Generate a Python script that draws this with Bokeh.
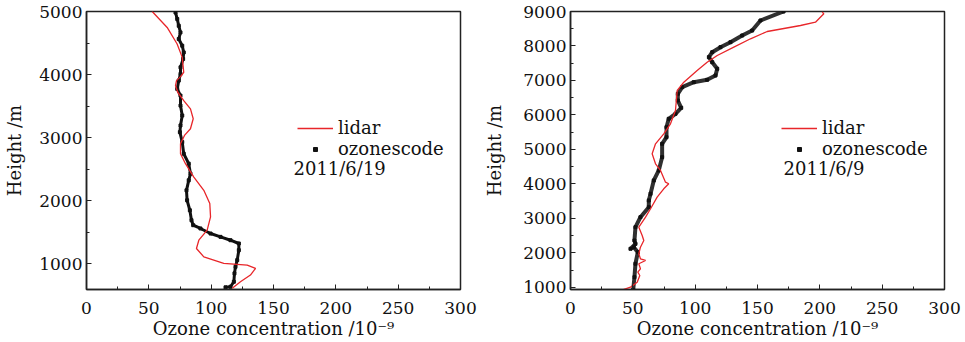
from bokeh.plotting import figure
from bokeh.layouts import row
from bokeh.models import SingleIntervalTicker, Legend, LegendItem, Label, Range1d
from bokeh.embed import file_html
from bokeh.resources import INLINE

# ---------------- data: 2011/6/19 ----------------
lidar1_x = [52.7, 64.7, 72.7, 76.8, 78.0, 75.4, 72.2, 71.4, 73.2, 78.0, 83.4, 85.6, 83.4, 78.6,
            75.4, 75.4, 79.4, 86.1, 94.1, 98.9, 99.5, 96.8, 90.1, 88.2, 94.1, 110.1, 128.9,
            135.6, 131.5, 123.5, 116.9]
lidar1_y = [5000, 4747, 4484, 4272, 4035, 3967, 3904, 3825, 3719, 3587, 3456, 3298, 3140, 3034,
            2902, 2744, 2586, 2374, 2163, 1953, 1741, 1531, 1372, 1241, 1108, 1004, 977,
            925, 819, 713, 608]
sonde1_x = [71.4, 72.8, 74.0, 75.4, 74.0, 76.8, 78.0, 77.5, 75.4, 75.4, 74.0, 72.8, 75.4, 75.4,
            76.8, 75.4, 74.9, 76.8, 78.0, 82.0, 83.4, 82.0, 80.2, 80.7, 82.9, 84.2, 85.6,
            91.4, 99.5, 107.5, 115.5, 122.2, 122.2, 120.9, 119.5, 118.7, 118.2, 115.5, 111.5]
sonde1_y = [4984, 4880, 4774, 4668, 4563, 4457, 4351, 4247, 4114, 4010, 3904, 3772, 3666, 3508,
            3350, 3192, 3086, 2928, 2744, 2586, 2428, 2322, 2163, 2005, 1847, 1689, 1610,
            1558, 1478, 1425, 1372, 1320, 1214, 1056, 950, 846, 713, 634, 624]

# ---------------- data: 2011/6/9 ----------------
lidar2_x = [201.9, 203.2, 196.5, 184.5, 157.8, 144.4, 131.0, 117.7, 109.6, 101.6, 90.9, 85.6,
            84.2, 80.2, 74.8, 68.2, 65.5, 68.2, 72.2, 76.2, 78.8, 74.8, 69.5, 64.2, 60.2,
            54.8, 57.5, 58.8, 56.1, 54.8, 56.1, 60.2, 54.8, 56.1, 54.0, 55.6, 53.5, 48.1, 40.1]
lidar2_y = [8990, 8933, 8690, 8594, 8420, 8209, 7965, 7724, 7530, 7290, 6950, 6710,
            6130, 5744, 5454, 5164, 4875, 4585, 4391, 4052, 4005, 3860, 3617, 3280, 3037,
            2747, 2506, 2361, 2167, 1976, 1831, 1782, 1686, 1541, 1442, 1346, 1152, 1007, 910]
sonde2_x = [170.9, 152.4, 145.7, 137.7, 128.3, 120.3, 113.7, 111.0, 113.7, 117.7, 116.3, 109.6,
            98.9, 89.6, 86.1, 86.1, 88.8, 84.2, 78.8, 77.0, 77.0, 73.5, 73.5, 70.8, 66.8,
            64.2, 62.8, 62.8, 56.1, 52.1, 51.3, 52.1, 48.1, 50.8, 54.0, 52.1, 51.3, 50.3]
sonde2_y = [9000, 8739, 8449, 8304, 8110, 7965, 7820, 7675, 7530, 7339, 7145, 7020,
            6950, 6806, 6614, 6420, 6208, 6034, 5889, 5646, 5356, 5164, 4776, 4391, 4101,
            3715, 3521, 3327, 3037, 2747, 2361, 2265, 2120, 2167, 2022, 1686, 1298, 930]

FONT = "DejaVu Serif"
RED = "#e8262a"
INK = "#111111"


def make_fig(width, border_left, border_right, y0, y1, lx, ly, sx, sy, date, date_x, thick,
             ylabel_standoff):
    p = figure(width=width, height=342, output_backend="svg", toolbar_location=None,
               x_range=Range1d(0, 300), y_range=Range1d(y0, y1),
               min_border_left=border_left, min_border_right=border_right,
               min_border_top=11, min_border_bottom=53)
    p.background_fill_color = "white"
    p.border_fill_color = "white"
    p.outline_line_color = "#222222"
    p.outline_line_width = 1.5
    p.xgrid.visible = False
    p.ygrid.visible = False
    p.xaxis.ticker = SingleIntervalTicker(interval=50, num_minor_ticks=2)
    p.yaxis.ticker = SingleIntervalTicker(interval=1000, num_minor_ticks=2)
    for ax in (p.xaxis[0], p.yaxis[0]):
        ax.axis_line_color = "#222222"
        ax.axis_line_width = 1.5
        ax.major_tick_in = 5
        ax.major_tick_out = 0
        ax.minor_tick_in = 3
        ax.minor_tick_out = 0
        ax.major_tick_line_color = "#222222"
        ax.minor_tick_line_color = "#222222"
        ax.major_label_text_font = FONT
        ax.major_label_text_font_size = "17px"
        ax.major_label_text_color = INK
        ax.axis_label_text_font = FONT
        ax.axis_label_text_font_size = "18px"
        ax.axis_label_text_font_style = "normal"
        ax.axis_label_text_color = INK
    p.xaxis.axis_label = "Ozone concentration /10\u207b\u2079"
    p.yaxis.axis_label = "Height /m"
    p.xaxis.major_label_standoff = 12
    p.xaxis.axis_label_standoff = 1
    p.yaxis.major_label_standoff = 4
    p.yaxis.axis_label_standoff = ylabel_standoff

    if thick:
        p.line(sx, sy, line_color="#1a1a1a", line_width=4, line_alpha=0.9)
        sr = p.scatter(sx, sy, marker="square", size=3, color=INK)
    else:
        p.line(sx, sy, line_color=INK, line_width=3)
        sr = p.scatter(sx, sy, marker="square", size=3, color=INK)
    lr = p.line(lx, ly, line_color=RED, line_width=1.3)

    leg = Legend(items=[LegendItem(label="lidar", renderers=[lr]),
                        LegendItem(label="ozonescode", renderers=[sr])],
                 location=(211, 130), padding=0, margin=0, spacing=0,
                 label_height=21, glyph_height=10, glyph_width=36, label_standoff=5,
                 background_fill_alpha=0, border_line_alpha=0,
                 label_text_font=FONT, label_text_font_size="18px",
                 label_text_color=INK)
    p.add_layout(leg)
    p.add_layout(Label(x=date_x, y=121, x_units="screen", y_units="screen", text=date,
                       text_font=FONT, text_font_size="18px", text_color=INK,
                       text_baseline="middle"))
    return p


p1 = make_fig(480, 86, 20, 590, 5000, lidar1_x, lidar1_y, sonde1_x, sonde1_y,
              "2011/6/19", 207, False, 11)
p2 = make_fig(485, 90, 21, 940, 9000, lidar2_x, lidar2_y, sonde2_x, sonde2_y,
              "2011/6/9", 213, True, 15)

layout = row(p1, p2)
open("out.html", "w").write(file_html(layout, INLINE))
